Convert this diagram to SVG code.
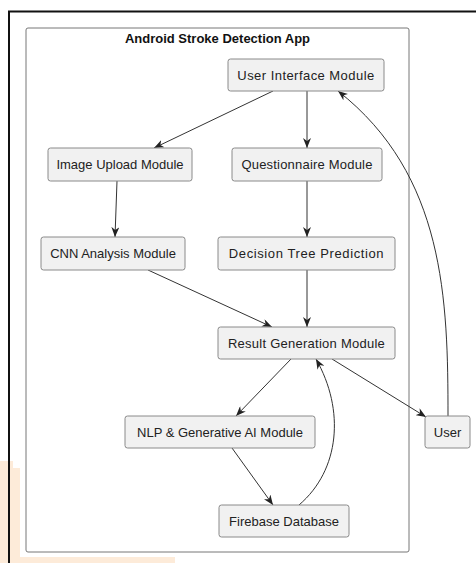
<svg xmlns="http://www.w3.org/2000/svg" width="476" height="563" viewBox="0 0 476 563">
<style>
.node rect{fill:#f1f1f1;stroke:#8a8a8a;stroke-width:1}
.node text{font-family:"Liberation Sans",Arial,sans-serif;font-size:13px;fill:#222;text-anchor:middle}
.edge{fill:none;stroke:#333;stroke-width:1;marker-end:url(#arr)}
.wm{fill:#fdebd9}
</style>
<defs>
<marker id="arr" markerUnits="userSpaceOnUse" viewBox="0 0 10 8" refX="10" refY="4" markerWidth="10" markerHeight="8" orient="auto">
<path d="M0,0 L10,4 L0,8 L3,4 Z" fill="#222"/>
</marker>
</defs>
<rect width="476" height="563" fill="#fff"/>
<g id="watermark">
<rect class="wm" x="0" y="461" width="13" height="102"/>
<rect class="wm" x="13" y="468" width="7" height="95"/>
<rect class="wm" x="0" y="557" width="175" height="6"/>
</g>
<path d="M9,563 V11.5 H476" fill="none" stroke="#111" stroke-width="2"/>
<g id="cluster">
<rect x="26" y="28" width="383" height="524" rx="2" fill="#fff" stroke="#777" stroke-width="1"/>
<text x="217.5" y="42.5" font-family="'Liberation Sans',Arial,sans-serif" font-size="13" font-weight="bold" fill="#111" text-anchor="middle">Android Stroke Detection App</text>
</g>
<g id="connectors">
<path class="edge" d="M273,91 L154,148"/>
<path class="edge" d="M307,91 L307,148"/>
<path class="edge" d="M117,181 L115,237"/>
<path class="edge" d="M307,181 L307,237"/>
<path class="edge" d="M148,270 L272,327"/>
<path class="edge" d="M307,270 L307,327"/>
<path class="edge" d="M291,359 L236,416"/>
<path class="edge" d="M332,359 L426,417"/>
<path class="edge" d="M232,448 L273,505"/>
<path class="edge" d="M299,505 C340,470 345,410 316,359"/>
<path class="edge" d="M448,416 C448,300 445,175 338,91"/>
</g>
<g id="ui" class="node"><rect x="228" y="59" width="156" height="32" rx="2.5"/><text x="306" y="79.5" letter-spacing="0.45">User Interface Module</text></g>
<g id="image_upload" class="node"><rect x="48" y="148" width="144" height="33" rx="2.5"/><text x="120" y="169">Image Upload Module</text></g>
<g id="questionnaire" class="node"><rect x="232" y="148" width="150" height="33" rx="2.5"/><text x="307" y="169" letter-spacing="0.2">Questionnaire Module</text></g>
<g id="cnn" class="node"><rect x="41" y="237" width="144" height="33" rx="2.5"/><text x="113" y="258">CNN Analysis Module</text></g>
<g id="decision_tree" class="node"><rect x="218" y="237" width="177" height="33" rx="2.5"/><text x="306.5" y="258" letter-spacing="0.6">Decision Tree Prediction</text></g>
<g id="result" class="node"><rect x="218" y="327" width="177" height="32" rx="2.5"/><text x="306.5" y="347.5" letter-spacing="0.25">Result Generation Module</text></g>
<g id="nlp" class="node"><rect x="125" y="416" width="190" height="32" rx="2.5"/><text x="220" y="436.5">NLP &amp; Generative AI Module</text></g>
<g id="firebase" class="node"><rect x="219" y="505" width="130" height="32" rx="2.5"/><text x="284" y="525.5">Firebase Database</text></g>
<g id="user" class="node"><rect x="425" y="416" width="45" height="32" rx="2.5"/><text x="447.5" y="436.5">User</text></g>
</svg>
